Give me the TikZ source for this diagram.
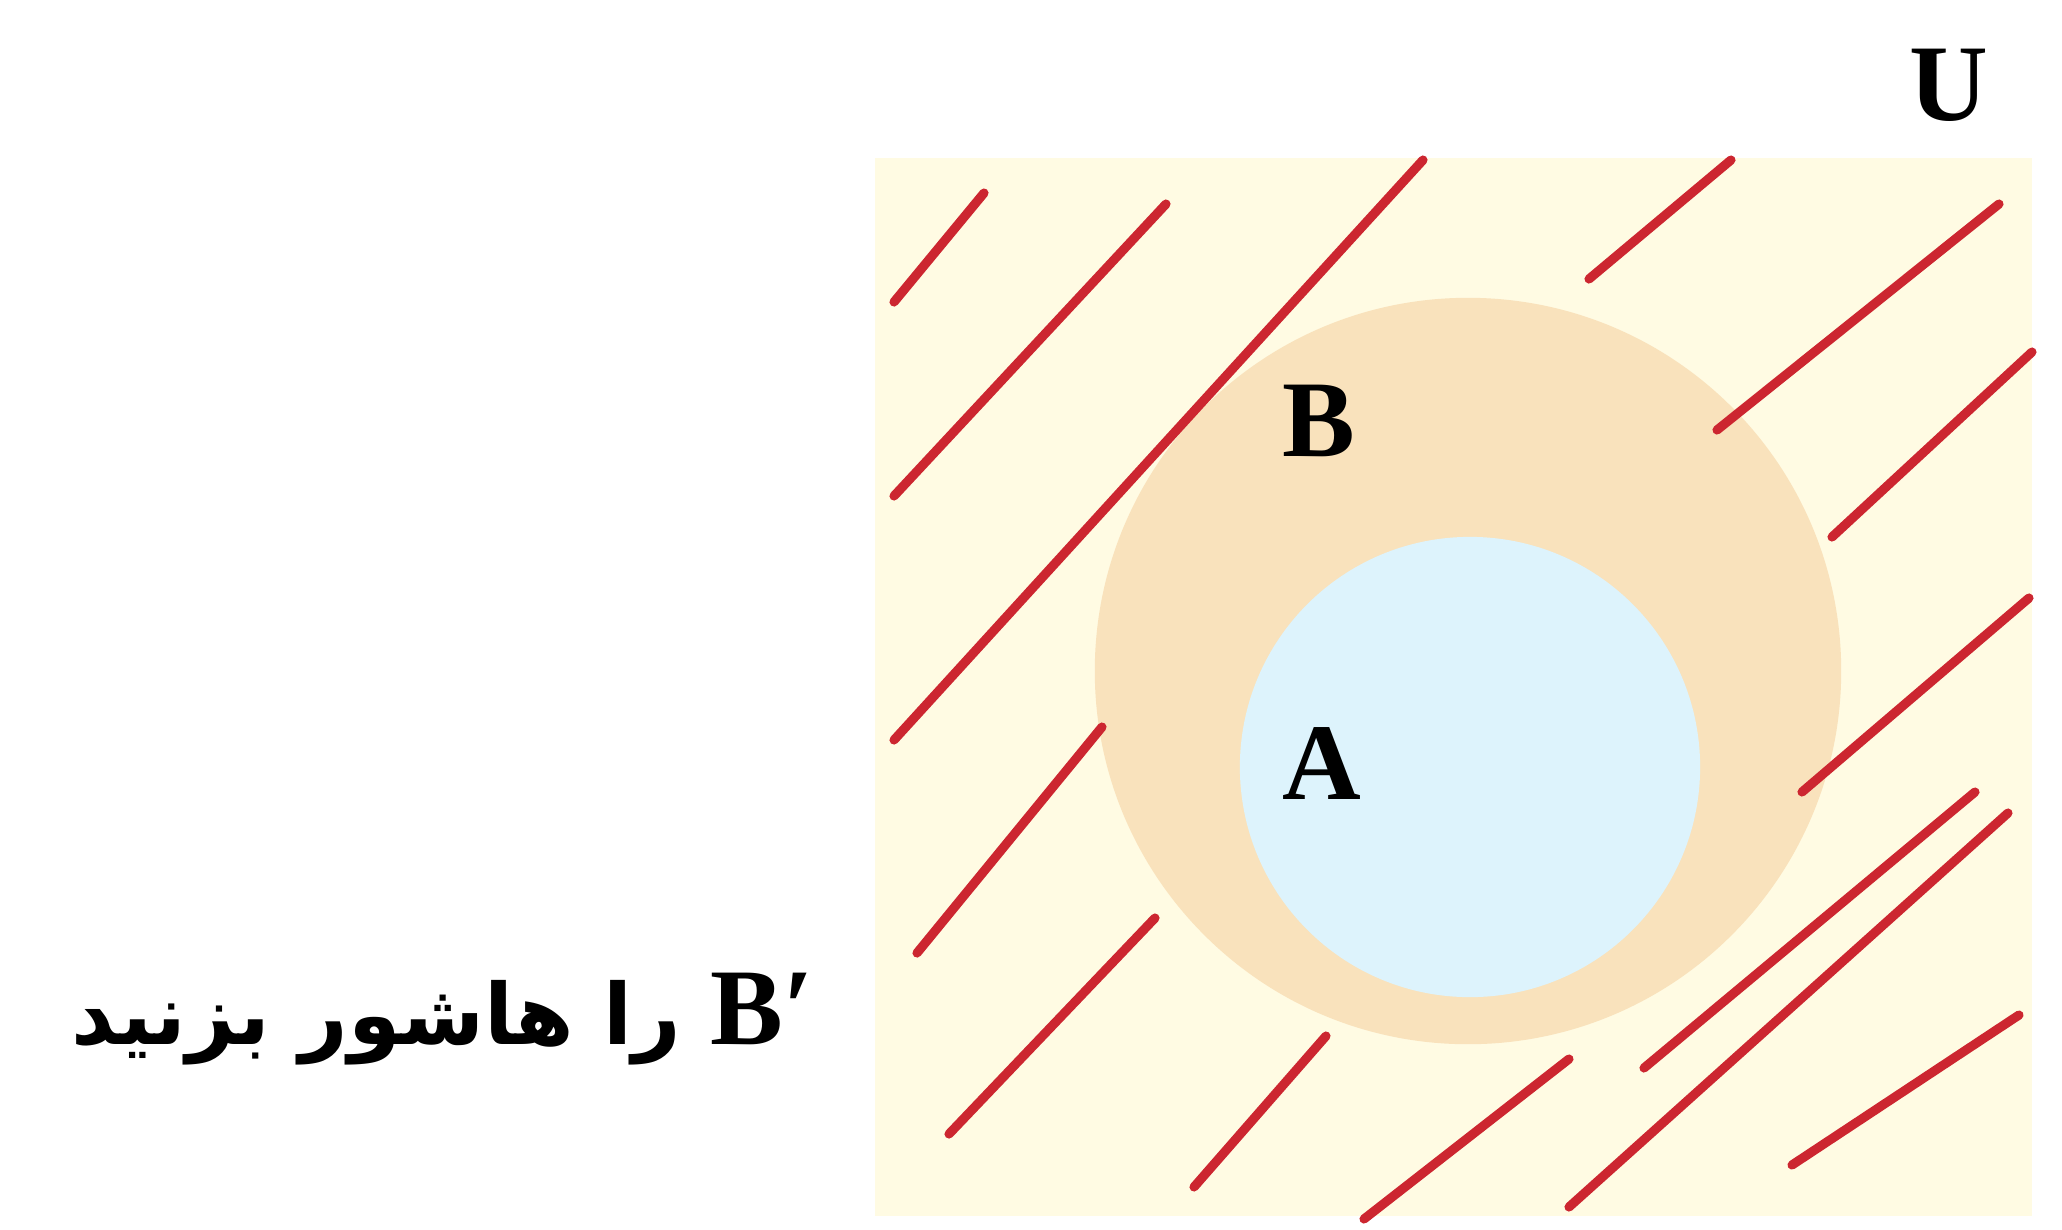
\documentclass[tikz,border=0pt]{standalone}
\usepackage{fontspec}
\setmainfont{Liberation Serif}[BoldFont={Liberation Serif Bold}]
\newfontfamily\arabicfont[Script=Arabic]{DejaVu Sans}
\TeXXeTstate=1
\usetikzlibrary{positioning}
\definecolor{vennuniv}{HTML}{FFFBE3}
\definecolor{vennb}{HTML}{F9E2BC}
\definecolor{venna}{HTML}{DDF3FC}
\definecolor{vennhatch}{HTML}{CC2630}

\begin{document}
\begin{tikzpicture}[x=0.01cm,y=-0.01cm,font=\fontsize{31}{36}\selectfont\bfseries,
    setlabel/.style={inner sep=0pt,text=black},
    hatch/.style={vennhatch,line width=2.6pt,line cap=round}]
    \useasboundingbox (0,0) rectangle (2062,1229);
    \fill[vennuniv] (875,158) rectangle (2032,1216);
    \node[circle,fill=vennb,inner sep=0pt,minimum size=7.46cm] (setB) at (1468,671) {};
    \node[circle,fill=venna,inner sep=0pt,minimum size=4.6cm] (setA) at (1470,767) {};
    % hatching of B'
    \foreach \xa/\ya/\xb/\yb in {894/302/984/193, 894/496/1166/204, 894/740/1423/160,
        917/953/1102/727, 949/1134/1155/918, 1194/1187/1326/1036, 1364/1219/1569/1059,
        1589/279/1731/160, 1717/430/1999/204, 1832/537/2032/352, 1802/792/2029/598,
        1644/1068/1975/792, 1569/1207/2008/813, 1792/1165/2019/1015}{
      \draw[hatch] (\xa,\ya) -- (\xb,\yb);
    }
    \node[setlabel] (labB) at (1319,421) {B};
    \node[setlabel] (labA) at (1322,763) {A};
    \node[setlabel] (labU) at (1949,85) {U};
    \node[setlabel,anchor=east] (task) at (815,1019)
      {\arabicfont\fontsize{24}{30}\selectfont\beginR\beginL{\normalfont\fontsize{31}{36}\selectfont\bfseries B′}\endL{} را هاشور بزنید\endR};
\end{tikzpicture}
\end{document}
